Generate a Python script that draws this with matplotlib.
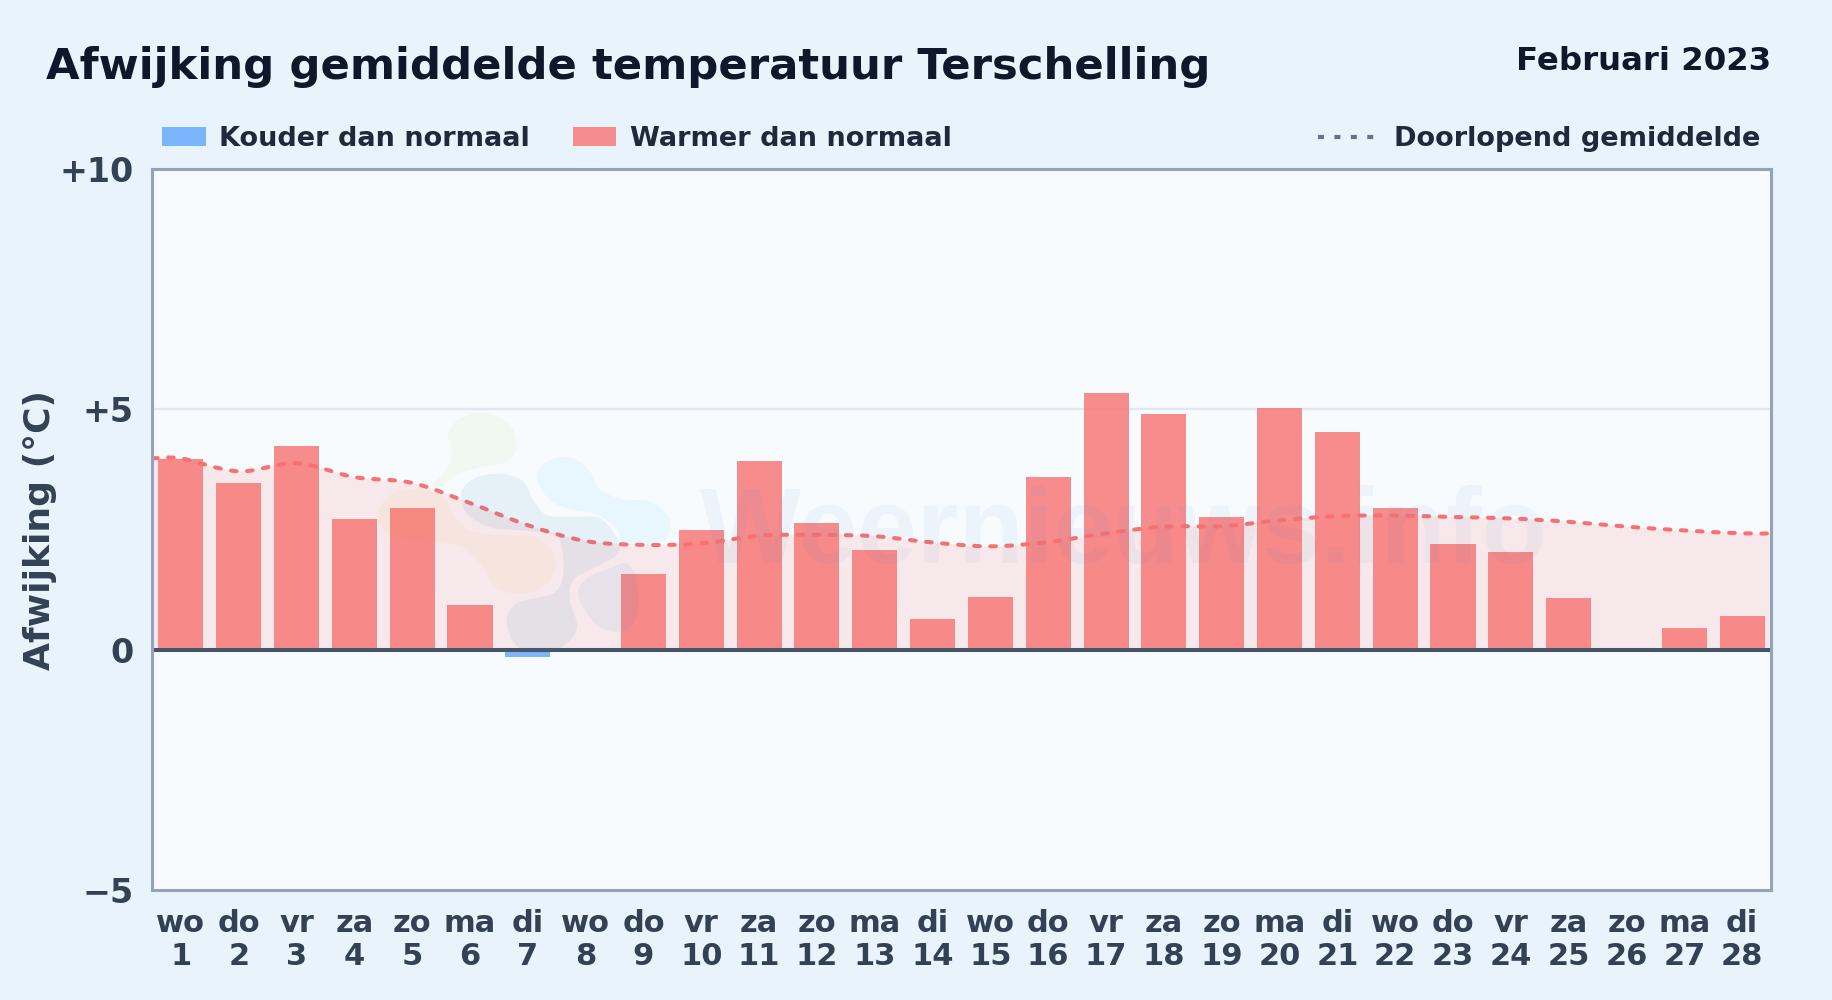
import matplotlib
matplotlib.use("Agg")
import matplotlib.pyplot as plt
import numpy as np
from matplotlib.path import Path
from matplotlib.patches import PathPatch, Rectangle
from matplotlib.lines import Line2D

# data
days = list(range(1, 29))
weekdays = ["wo", "do", "vr", "za", "zo", "ma", "di"] * 4
deviation = [3.97, 3.47, 4.24, 2.72, 2.95, 0.93, -0.16, 0.0, 1.58, 2.49, 3.92, 2.63, 2.07, 0.63,
             1.09, 3.59, 5.34, 4.90, 2.75, 5.02, 4.53, 2.95, 2.20, 2.03, 1.07, 0.0, 0.45, 0.70]
running = [3.98, 3.71, 3.88, 3.59, 3.47, 3.05, 2.59, 2.26, 2.18, 2.21, 2.37, 2.39, 2.36, 2.23,
           2.15, 2.24, 2.42, 2.56, 2.57, 2.69, 2.78, 2.79, 2.76, 2.73, 2.66, 2.56, 2.48, 2.42]
yticks = [-5, 0, 5, 10]
ytick_labels = ["\u22125", "0", "+5", "+10"]

W, H = 1832, 1000


def smooth_path(x, y):
    # catmull-rom through the points, as bezier segments
    x = np.asarray(x, float)
    y = np.asarray(y, float)
    verts = [(x[0], y[0])]
    codes = [Path.MOVETO]
    for i in range(len(x) - 1):
        i0 = max(i - 1, 0)
        i3 = min(i + 2, len(x) - 1)
        verts.append((x[i] + (x[i + 1] - x[i0]) / 6, y[i] + (y[i + 1] - y[i0]) / 6))
        verts.append((x[i + 1] - (x[i3] - x[i]) / 6, y[i + 1] - (y[i3] - y[i]) / 6))
        verts.append((x[i + 1], y[i + 1]))
        codes += [Path.CURVE4] * 3
    return verts, codes


def blob(outline, color, alpha):
    # closed smooth shape for the logo, outline in pixels of the crop around the logo
    pts = [(360 + px / 3, 400 + py / 3) for px, py in outline]
    n = len(pts)
    verts = [pts[0]]
    codes = [Path.MOVETO]
    for i in range(n):
        p0, p1, p2, p3 = pts[i - 1], pts[i], pts[(i + 1) % n], pts[(i + 2) % n]
        verts.append((p1[0] + (p2[0] - p0[0]) / 6, p1[1] + (p2[1] - p0[1]) / 6))
        verts.append((p2[0] - (p3[0] - p1[0]) / 6, p2[1] - (p3[1] - p1[1]) / 6))
        verts.append(p2)
        codes += [Path.CURVE4] * 3
    verts = [(vx / W, 1 - vy / H) for vx, vy in verts]
    fig.add_artist(PathPatch(Path(verts, codes), transform=fig.transFigure, facecolor=color,
                             alpha=alpha, lw=0, zorder=6))


fig = plt.figure(figsize=(W / 100, H / 100), dpi=100, facecolor="#e8f3fb")
ax = fig.add_axes([152 / W, 1 - 890 / H, (1771 - 152) / W, (890 - 169) / H])
ax.set_facecolor("#f7fbfe")

ax.set_xlim(0.5, 28.5)
ax.set_ylim(-5, 10)
ax.axhline(5, color="#e2e8f0", lw=1.6, zorder=1)

# running mean, area and dotted line
line_x = [0.5] + days + [28.5]
line_y = [running[0]] + running + [running[-1]]
verts, codes = smooth_path(line_x, line_y)
area = PathPatch(Path(verts + [(28.5, 0), (0.5, 0), (0.5, running[0])],
                      codes + [Path.LINETO, Path.LINETO, Path.CLOSEPOLY]),
                 facecolor="#f87171", alpha=0.13, lw=0, zorder=2)
ax.add_patch(area)

colors = ["#60a5fa" if v < 0 else "#f87171" for v in deviation]
ax.bar(days, deviation, width=0.78, color=colors, alpha=0.8, lw=0, zorder=3)

dots = PathPatch(Path(verts, codes), facecolor="none", edgecolor="#f87171", lw=2.9,
                 linestyle=(0, (1.4, 2.6)), capstyle="round", zorder=4)
ax.add_patch(dots)
ax.axhline(0, color="#475569", lw=2.9, zorder=5)

# watermark, faint logo and name
blob([(265, 100), (300, 55), (380, 40), (450, 75), (470, 140), (440, 185), (350, 205), (290, 225),
      (240, 260), (215, 255), (265, 200), (272, 140)], "#84cc16", 0.05)
blob([(530, 225), (570, 180), (640, 175), (690, 215), (720, 270), (790, 298), (870, 305),
      (925, 350), (925, 410), (880, 435), (790, 430), (770, 385), (700, 340), (620, 325),
      (560, 290)], "#38bdf8", 0.08)
blob([(600, 420), (610, 520), (580, 580), (470, 610), (440, 670), (480, 745), (580, 755),
      (650, 690), (630, 600), (640, 540), (700, 505), (770, 465), (775, 420), (720, 355),
      (640, 350), (560, 345), (520, 300), (490, 245), (430, 222), (350, 232), (305, 275),
      (320, 340), (390, 382), (470, 390), (560, 400)], "#3083b9", 0.09)
blob([(655, 590), (680, 535), (750, 505), (800, 490), (830, 540), (830, 650), (780, 695),
      (710, 675)], "#3083b9", 0.07)
blob([(55, 340), (90, 285), (170, 268), (250, 290), (280, 340), (320, 385), (400, 405), (520, 410),
      (575, 450), (585, 500), (550, 560), (470, 582), (400, 555), (360, 490), (300, 440),
      (210, 425), (120, 415), (70, 390)], "#f59e0b", 0.05)
fig.text(1124 / W, 1 - 535 / H, "Weernieuws.info", color="#3f7fc4", alpha=0.06, fontsize=77,
         fontweight="bold", family="Liberation Sans", ha="center", va="center", zorder=6)

for s in ax.spines.values():
    s.set_color("#94a3b8")
    s.set_linewidth(2.2)
    s.set_zorder(7)

ax.set_yticks(yticks)
ax.set_yticklabels(ytick_labels, fontsize=24, fontweight="bold", color="#334155")
ax.set_xticks(days)
ax.set_xticklabels([f"{w}\n{d}" for w, d in zip(weekdays, days)], fontsize=22, fontweight="bold",
                   color="#334155", linespacing=1.15)
ax.tick_params(axis="y", length=0, pad=13)
ax.tick_params(axis="x", length=0, pad=14)

fig.text(40 / W, 1 - 530 / H, "Afwijking (\u00b0C)", rotation=90, fontsize=26, fontweight="bold",
         color="#334155", ha="center", va="center")
fig.text(46 / W, 1 - 67 / H, "Afwijking gemiddelde temperatuur Terschelling", fontsize=31.2,
         fontweight="bold", color="#0f172a", ha="left", va="center")
fig.text(1771 / W, 1 - 62 / H, "Februari 2023", fontsize=23.3, fontweight="bold", color="#0f172a",
         ha="right", va="center")

# legend row
to_fig = fig.transFigure
fig.add_artist(Rectangle((162 / W, 1 - 146 / H), 44 / W, 19 / H, transform=to_fig,
                         facecolor="#60a5fa", alpha=0.8, lw=0))
fig.add_artist(Rectangle((573 / W, 1 - 146 / H), 43 / W, 19 / H, transform=to_fig,
                         facecolor="#f87171", alpha=0.8, lw=0))
fig.text(219 / W, 1 - 139 / H, "Kouder dan normaal", fontsize=19.55, fontweight="bold",
         color="#1e293b", ha="left", va="center")
fig.text(630 / W, 1 - 139 / H, "Warmer dan normaal", fontsize=19.55, fontweight="bold",
         color="#1e293b", ha="left", va="center")
fig.add_artist(Line2D([1317.5 / W, 1374 / W], [1 - 137 / H] * 2, transform=to_fig, color="#64748b",
                      lw=3, linestyle=(0, (1.44, 2.5)), dash_capstyle="butt"))
fig.text(1760 / W, 1 - 139 / H, "Doorlopend gemiddelde", fontsize=19.55, fontweight="bold",
         color="#1e293b", ha="right", va="center")

fig.savefig("out.png", dpi=100, facecolor=fig.get_facecolor())
